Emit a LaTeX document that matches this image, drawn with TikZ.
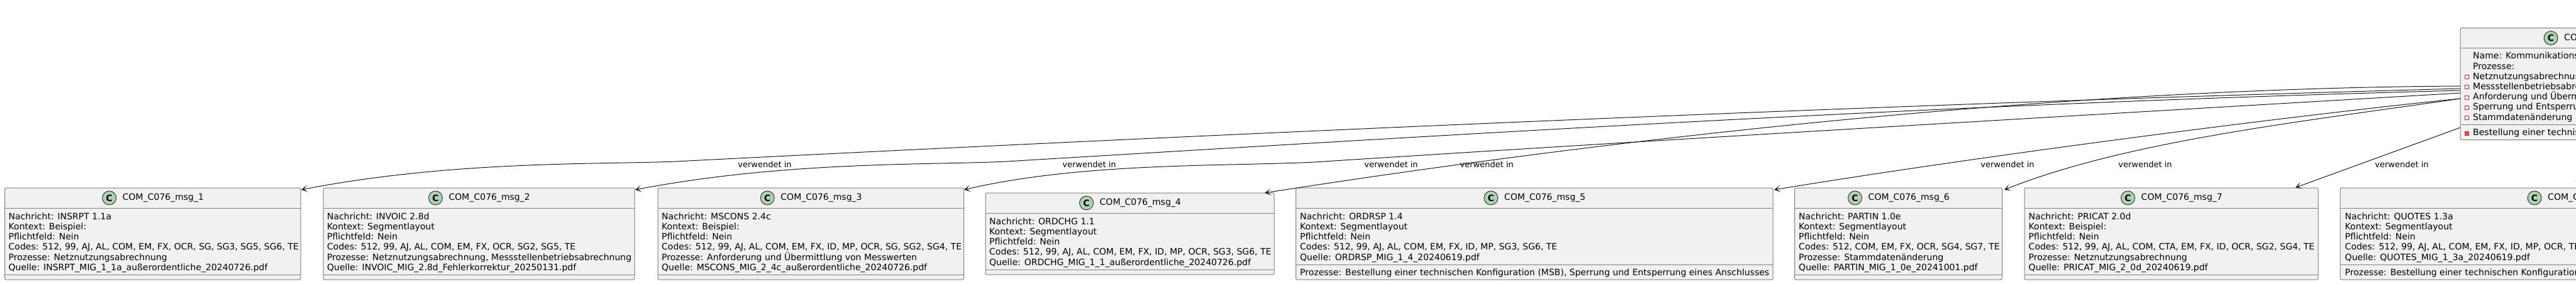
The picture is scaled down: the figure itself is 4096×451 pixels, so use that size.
\documentclass[tikz,border=0pt]{standalone}
\usepackage{fontspec}
\setmainfont{DejaVu Sans}
\usetikzlibrary{arrows.meta}

\definecolor{boxfill}{HTML}{F1F1F1}
\definecolor{boxline}{HTML}{808080}
\definecolor{spotfill}{HTML}{ADD1B2}
\definecolor{inkline}{HTML}{181818}
\definecolor{markline}{HTML}{C82930}
\definecolor{markfill}{HTML}{F24D5C}

\begin{document}
\begin{tikzpicture}[x=1pt,y=-1pt]
    % --- Styles ---
    \tikzset{
        classbox/.style={
            draw=boxline, fill=boxfill, line width=1pt, rounded corners=2.5pt,
            anchor=north west, inner sep=0pt, outer sep=0pt
        },
        classline/.style={draw=boxline, line width=1pt},
        spot/.style={
            circle, draw=inkline, fill=spotfill, line width=0.8pt,
            minimum size=22pt, inner sep=0pt,
            font=\fontsize{14}{14}\selectfont\bfseries
        },
        title text/.style={anchor=west, inner sep=0pt, font=\fontsize{14}{16}\selectfont},
        member text/.style={
            anchor=north west, inner sep=0pt, align=left,
            font=\fontsize{14}{16.2}\selectfont
        },
        used label/.style={inner sep=0pt, font=\fontsize{13}{15}\selectfont},
        used in/.style={
            draw=inkline, line width=1pt,
            -{Stealth[length=10pt,width=11pt,inset=6pt]}
        },
        open mark/.style={draw=markline, fill=white, line width=0.9pt, minimum size=6pt, inner sep=0pt},
        full mark/.style={draw=markline, fill=markfill, line width=0.9pt, minimum size=6pt, inner sep=0pt}
    }

    % --- Page ---
    \useasboundingbox (0,0) rectangle (4096,451);
    \clip (0,0) rectangle (4096,451);

    % =========================================================
    % 1) MESSAGE BOXES
    % =========================================================
    \foreach \m/\n/\xl/\xr/\yt/\yb/\sep in {
        msgA/1/7.5/478/299/445/8, msgB/2/514/1009/299/445/8,
        msgC/3/1046/1532.5/299/445/8, msgD/4/1567/2026/307/437/8,
        msgE/5/2060.5/2819/299/445/24, msgF/6/2853.5/3183.5/299/445/8,
        msgG/7/3219/3686/299/445/8, msgH/8/3721/4477/299/445/24} {
      \pgfmathsetmacro{\boxW}{\xr-\xl}
      \pgfmathsetmacro{\boxH}{\yb-\yt}
      \node[classbox, minimum width=\boxW pt, minimum height=\boxH pt] (\m) at (\xl,\yt) {};
      \draw[classline] ([yshift=-32pt]\m.north west) -- ([yshift=-32pt]\m.north east);
      \draw[classline] ([yshift=\sep pt]\m.south west) -- ([yshift=\sep pt]\m.south east);
      \node[spot] (\m spot) at ([xshift=-69pt,yshift=-16pt]\m.north) {C};
      \node[title text] (\m title) at ([xshift=-48pt,yshift=-16pt]\m.north) {COM\_C076\_msg\_\n};
    }

    % --- Texts of the message boxes ---
    \node[member text] (msgA text) at (13.5,338.5) {Nachricht: INSRPT 1.1a\\Kontext: Beispiel:\\Pflichtfeld: Nein\\Codes: 512, 99, AJ, AL, COM, EM, FX, OCR, SG, SG3, SG5, SG6, TE\\Prozesse: Netznutzungsabrechnung\\Quelle: INSRPT\_MIG\_1\_1a\_außerordentliche\_20240726.pdf};
    \node[member text] (msgB text) at (520,338.5) {Nachricht: INVOIC 2.8d\\Kontext: Segmentlayout\\Pflichtfeld: Nein\\Codes: 512, 99, AJ, AL, COM, EM, FX, OCR, SG2, SG5, TE\\Prozesse: Netznutzungsabrechnung, Messstellenbetriebsabrechnung\\Quelle: INVOIC\_MIG\_2.8d\_Fehlerkorrektur\_20250131.pdf};
    \node[member text] (msgC text) at (1052,338.5) {Nachricht: MSCONS 2.4c\\Kontext: Beispiel:\\Pflichtfeld: Nein\\Codes: 512, 99, AJ, AL, COM, EM, FX, ID, MP, OCR, SG, SG2, SG4, TE\\Prozesse: Anforderung und Übermittlung von Messwerten\\Quelle: MSCONS\_MIG\_2\_4c\_außerordentliche\_20240726.pdf};
    \node[member text] (msgD text) at (1573,346.5) {Nachricht: ORDCHG 1.1\\Kontext: Segmentlayout\\Pflichtfeld: Nein\\Codes: 512, 99, AJ, AL, COM, EM, FX, ID, MP, OCR, SG3, SG6, TE\\Quelle: ORDCHG\_MIG\_1\_1\_außerordentliche\_20240726.pdf};
    \node[member text] (msgE text) at (2067,338.5) {Nachricht: ORDRSP 1.4\\Kontext: Segmentlayout\\Pflichtfeld: Nein\\Codes: 512, 99, AJ, AL, COM, EM, FX, ID, MP, SG3, SG6, TE\\Quelle: ORDRSP\_MIG\_1\_4\_20240619.pdf};
    \node[member text] (msgE proc) at (2067,427.5) {Prozesse: Bestellung einer technischen Konfiguration (MSB), Sperrung und Entsperrung eines Anschlusses};
    \node[member text] (msgF text) at (2860,338.5) {Nachricht: PARTIN 1.0e\\Kontext: Segmentlayout\\Pflichtfeld: Nein\\Codes: 512, COM, EM, FX, OCR, SG4, SG7, TE\\Prozesse: Stammdatenänderung\\Quelle: PARTIN\_MIG\_1\_0e\_20241001.pdf};
    \node[member text] (msgG text) at (3225.5,338.5) {Nachricht: PRICAT 2.0d\\Kontext: Beispiel:\\Pflichtfeld: Nein\\Codes: 512, 99, AJ, AL, COM, CTA, EM, FX, ID, OCR, SG2, SG4, TE\\Prozesse: Netznutzungsabrechnung\\Quelle: PRICAT\_MIG\_2\_0d\_20240619.pdf};
    \node[member text] (msgH text) at (3728.5,338.5) {Nachricht: QUOTES 1.3a\\Kontext: Segmentlayout\\Pflichtfeld: Nein\\Codes: 512, 99, AJ, AL, COM, EM, FX, ID, MP, OCR, TE\\Quelle: QUOTES\_MIG\_1\_3a\_20240619.pdf};
    \node[member text] (msgH proc) at (3728.5,427.5) {Prozesse: Bestellung einer technischen Konfiguration (MSB), Sperrung und Entsperrung eines Anschlusses};

    % =========================================================
    % 2) COMMUNITY BOX AT THE TOP
    % =========================================================
    \node[classbox, minimum width=600pt, minimum height=178pt] (comC) at (3912,44.5) {};
    \draw[classline] ([yshift=-32pt]comC.north west) -- ([yshift=-32pt]comC.north east);
    \draw[classline] ([yshift=24pt]comC.south west) -- ([yshift=24pt]comC.south east);
    \node[spot] (comC spot) at (4056,60.5) {C};
    \node[title text] (comC title) at (4077,60.5) {COM\_C076};
    \node[member text] (comC text) at (3932,83) {Name: Kommunikations\\Prozesse:\\Netznutzungsabrechnung\\Messstellenbetriebsabrechnung\\Anforderung und Übermittlung von Messwerten\\Sperrung und Entsperrung eines Anschlusses\\Stammdatenänderung};
    \node[member text] (comC proc) at (3932,204.5) {Bestellung einer technischen Konfiguration (MSB)};
    \foreach \yy [count=\i] in {122.7,138.5,155,171,187} {
      \node[open mark] (mark\i) at (3922,\yy) {};
    }
    \node[full mark] (markF) at (3922,212) {};

    % =========================================================
    % 3) CONNECTORS
    % =========================================================
    \coordinate (outA) at (3912,141);   \coordinate (inA) at (479,302);
    \coordinate (outB) at (3912,144);   \coordinate (inB) at (1010,302);
    \coordinate (outC) at (3912,148);   \coordinate (inC) at (1533,302);
    \coordinate (outD) at (3912,137);   \coordinate (inD) at (2011,307);
    \coordinate (outE) at (3912,157);   \coordinate (inE) at (2821,302);
    \coordinate (outF) at (3912,157);   \coordinate (inF) at (3187,302);
    \coordinate (outG) at (3912,203);   \coordinate (inG) at (3650,298.5);
    \coordinate (outH) at (4112,222);   \coordinate (inH) at (4099,298);

    \draw[used in] (outA) .. controls (3000,165) and (1900,215) .. (1074,257)
                          .. controls (960,262) and (720,255) .. (inA);
    \draw[used in] (outB) .. controls (3100,165) and (2350,212) .. (1600,257)
                          .. controls (1480,263) and (1250,256) .. (inB);
    \draw[used in] (outC) .. controls (3200,190) and (2600,225) .. (2090,258)
                          .. controls (1950,265) and (1720,258) .. (inC);
    \draw[used in] (outD) .. controls (3300,140) and (2600,215) .. (inD);
    \draw[used in] (outE) .. controls (3700,178) and (3200,240) .. (inE);
    \draw[used in] (outF) .. controls (3650,195) and (3380,225) .. (inF);
    \draw[used in] (outG) -- (inG);
    \draw[used in] (outH) -- (inH);

    % --- Edge labels ---
    \foreach \m/\x in {A/1216,B/1732,C/2212,D/2364,E/3192,F/3411,G/3819} {
      \node[used label] (label\m) at (\x,261.7) {verwendet in};
    }
\end{tikzpicture}
\end{document}
